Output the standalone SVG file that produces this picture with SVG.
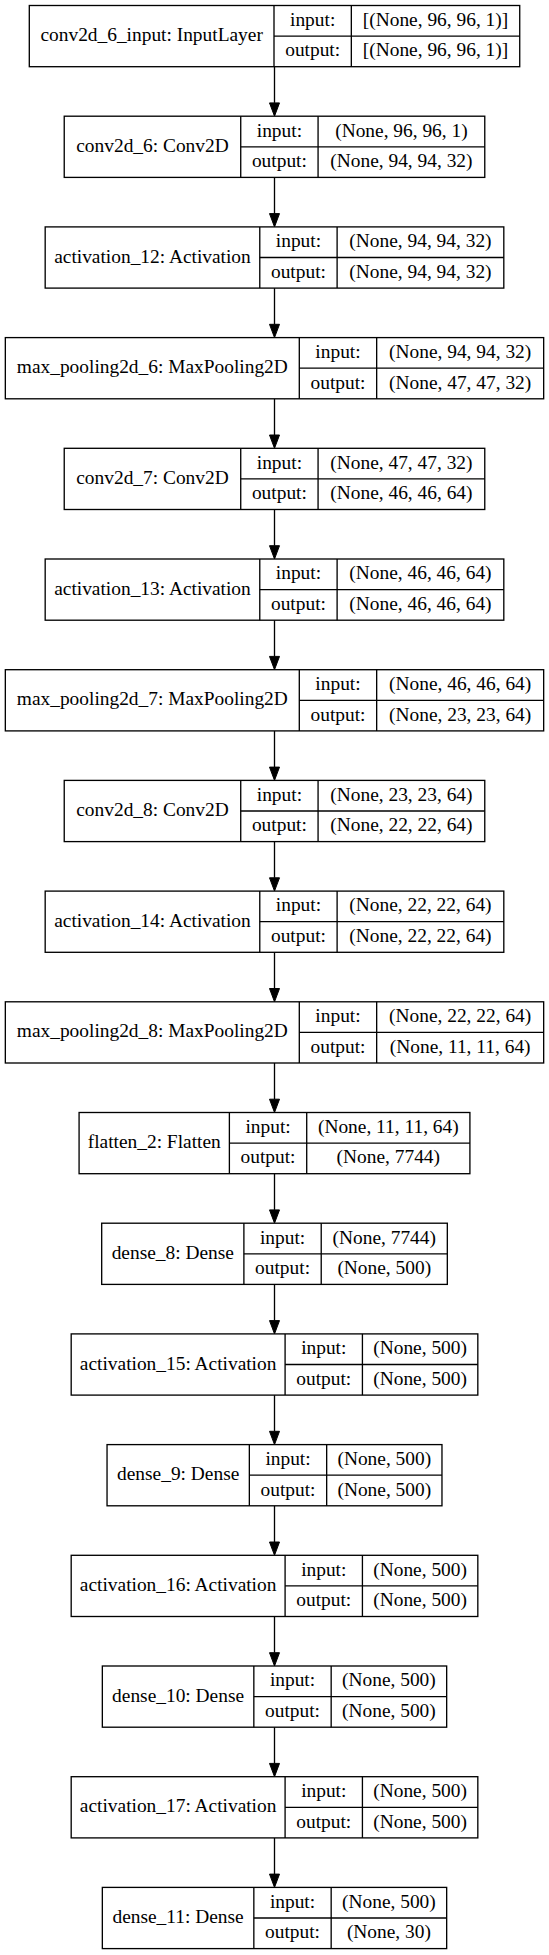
<svg xmlns="http://www.w3.org/2000/svg" width="549" height="1955" viewBox="0 0 549 1955" font-family="'Liberation Serif', 'DejaVu Serif', serif">
<style>
.bg{fill:#fff}
rect.b{fill:#fff;stroke:#000;stroke-width:1.33}
line.s{stroke:#000;stroke-width:1.33}
text{font-family:'Liberation Serif','DejaVu Serif',serif;font-size:19.4px;fill:#000;text-anchor:middle}
.e{stroke:#000;stroke-width:1.33;fill:none}
</style>
<defs>
<marker id="ah" markerWidth="14" markerHeight="10" refX="0" refY="5" orient="auto" markerUnits="userSpaceOnUse" viewBox="0 0 14 10" overflow="visible"><path d="M0,0 L13.3,5 L0,10 z" fill="#000" stroke="#000" stroke-width="1"/></marker>
</defs>
<rect class="bg" x="0" y="0" width="549" height="1955"/>
<g id="connectors">
<path class="e" marker-end="url(#ah)" d="M274.5,66.7 V102.9"/>
<path class="e" marker-end="url(#ah)" d="M274.5,177.4 V213.6"/>
<path class="e" marker-end="url(#ah)" d="M274.5,288.1 V324.3"/>
<path class="e" marker-end="url(#ah)" d="M274.5,398.8 V435.0"/>
<path class="e" marker-end="url(#ah)" d="M274.5,509.5 V545.7"/>
<path class="e" marker-end="url(#ah)" d="M274.5,620.2 V656.4"/>
<path class="e" marker-end="url(#ah)" d="M274.5,730.9 V767.1"/>
<path class="e" marker-end="url(#ah)" d="M274.5,841.6 V877.8"/>
<path class="e" marker-end="url(#ah)" d="M274.5,952.3 V988.5"/>
<path class="e" marker-end="url(#ah)" d="M274.5,1063.0 V1099.2"/>
<path class="e" marker-end="url(#ah)" d="M274.5,1173.7 V1209.9"/>
<path class="e" marker-end="url(#ah)" d="M274.5,1284.4 V1320.6"/>
<path class="e" marker-end="url(#ah)" d="M274.5,1395.1 V1431.3"/>
<path class="e" marker-end="url(#ah)" d="M274.5,1505.8 V1542.0"/>
<path class="e" marker-end="url(#ah)" d="M274.5,1616.5 V1652.7"/>
<path class="e" marker-end="url(#ah)" d="M274.5,1727.2 V1763.4"/>
<path class="e" marker-end="url(#ah)" d="M274.5,1837.9 V1874.1"/>
</g>
<g id="conv2d_6_input">
<rect class="b" x="29.3" y="5.5" width="490.43" height="61.2"/>
<line class="s" x1="274.0" y1="5.5" x2="274.0" y2="66.7"/><line class="s" x1="351.33" y1="5.5" x2="351.33" y2="66.7"/><line class="s" x1="274.0" y1="36.1" x2="519.73" y2="36.1"/>
<text x="151.65" y="41.1">conv2d_6_input: InputLayer</text>
<text x="312.67" y="25.8">input:</text><text x="312.67" y="56.4">output:</text>
<text x="435.53" y="25.8">[(None, 96, 96, 1)]</text><text x="435.53" y="56.4">[(None, 96, 96, 1)]</text>
</g>
<g id="conv2d_6">
<rect class="b" x="64.23" y="116.2" width="420.54" height="61.2"/>
<line class="s" x1="240.73" y1="116.2" x2="240.73" y2="177.4"/><line class="s" x1="318.07" y1="116.2" x2="318.07" y2="177.4"/><line class="s" x1="240.73" y1="146.8" x2="484.77" y2="146.8"/>
<text x="152.48" y="151.8">conv2d_6: Conv2D</text>
<text x="279.4" y="136.5">input:</text><text x="279.4" y="167.1">output:</text>
<text x="401.42" y="136.5">(None, 96, 96, 1)</text><text x="401.42" y="167.1">(None, 94, 94, 32)</text>
</g>
<g id="activation_12">
<rect class="b" x="45.18" y="226.9" width="458.63" height="61.2"/>
<line class="s" x1="259.78" y1="226.9" x2="259.78" y2="288.1"/><line class="s" x1="337.11" y1="226.9" x2="337.11" y2="288.1"/><line class="s" x1="259.78" y1="257.5" x2="503.81" y2="257.5"/>
<text x="152.48" y="262.5">activation_12: Activation</text>
<text x="298.45" y="247.2">input:</text><text x="298.45" y="277.8">output:</text>
<text x="420.46" y="247.2">(None, 94, 94, 32)</text><text x="420.46" y="277.8">(None, 94, 94, 32)</text>
</g>
<g id="max_pooling2d_6">
<rect class="b" x="5.33" y="337.6" width="538.34" height="61.2"/>
<line class="s" x1="299.3" y1="337.6" x2="299.3" y2="398.8"/><line class="s" x1="376.67" y1="337.6" x2="376.67" y2="398.8"/><line class="s" x1="299.3" y1="368.2" x2="543.67" y2="368.2"/>
<text x="152.32" y="373.2">max_pooling2d_6: MaxPooling2D</text>
<text x="337.99" y="357.9">input:</text><text x="337.99" y="388.5">output:</text>
<text x="460.17" y="357.9">(None, 94, 94, 32)</text><text x="460.17" y="388.5">(None, 47, 47, 32)</text>
</g>
<g id="conv2d_7">
<rect class="b" x="64.23" y="448.3" width="420.54" height="61.2"/>
<line class="s" x1="240.73" y1="448.3" x2="240.73" y2="509.5"/><line class="s" x1="318.07" y1="448.3" x2="318.07" y2="509.5"/><line class="s" x1="240.73" y1="478.9" x2="484.77" y2="478.9"/>
<text x="152.48" y="483.9">conv2d_7: Conv2D</text>
<text x="279.4" y="468.6">input:</text><text x="279.4" y="499.2">output:</text>
<text x="401.42" y="468.6">(None, 47, 47, 32)</text><text x="401.42" y="499.2">(None, 46, 46, 64)</text>
</g>
<g id="activation_13">
<rect class="b" x="45.18" y="559.0" width="458.63" height="61.2"/>
<line class="s" x1="259.78" y1="559.0" x2="259.78" y2="620.2"/><line class="s" x1="337.11" y1="559.0" x2="337.11" y2="620.2"/><line class="s" x1="259.78" y1="589.6" x2="503.81" y2="589.6"/>
<text x="152.48" y="594.6">activation_13: Activation</text>
<text x="298.45" y="579.3">input:</text><text x="298.45" y="609.9">output:</text>
<text x="420.46" y="579.3">(None, 46, 46, 64)</text><text x="420.46" y="609.9">(None, 46, 46, 64)</text>
</g>
<g id="max_pooling2d_7">
<rect class="b" x="5.33" y="669.7" width="538.34" height="61.2"/>
<line class="s" x1="299.3" y1="669.7" x2="299.3" y2="730.9"/><line class="s" x1="376.67" y1="669.7" x2="376.67" y2="730.9"/><line class="s" x1="299.3" y1="700.3" x2="543.67" y2="700.3"/>
<text x="152.32" y="705.3">max_pooling2d_7: MaxPooling2D</text>
<text x="337.99" y="690.0">input:</text><text x="337.99" y="720.6">output:</text>
<text x="460.17" y="690.0">(None, 46, 46, 64)</text><text x="460.17" y="720.6">(None, 23, 23, 64)</text>
</g>
<g id="conv2d_8">
<rect class="b" x="64.23" y="780.4" width="420.54" height="61.2"/>
<line class="s" x1="240.73" y1="780.4" x2="240.73" y2="841.6"/><line class="s" x1="318.07" y1="780.4" x2="318.07" y2="841.6"/><line class="s" x1="240.73" y1="811.0" x2="484.77" y2="811.0"/>
<text x="152.48" y="816.0">conv2d_8: Conv2D</text>
<text x="279.4" y="800.7">input:</text><text x="279.4" y="831.3">output:</text>
<text x="401.42" y="800.7">(None, 23, 23, 64)</text><text x="401.42" y="831.3">(None, 22, 22, 64)</text>
</g>
<g id="activation_14">
<rect class="b" x="45.18" y="891.1" width="458.63" height="61.2"/>
<line class="s" x1="259.78" y1="891.1" x2="259.78" y2="952.3"/><line class="s" x1="337.11" y1="891.1" x2="337.11" y2="952.3"/><line class="s" x1="259.78" y1="921.7" x2="503.81" y2="921.7"/>
<text x="152.48" y="926.7">activation_14: Activation</text>
<text x="298.45" y="911.4">input:</text><text x="298.45" y="942.0">output:</text>
<text x="420.46" y="911.4">(None, 22, 22, 64)</text><text x="420.46" y="942.0">(None, 22, 22, 64)</text>
</g>
<g id="max_pooling2d_8">
<rect class="b" x="5.33" y="1001.8" width="538.34" height="61.2"/>
<line class="s" x1="299.3" y1="1001.8" x2="299.3" y2="1063.0"/><line class="s" x1="376.67" y1="1001.8" x2="376.67" y2="1063.0"/><line class="s" x1="299.3" y1="1032.4" x2="543.67" y2="1032.4"/>
<text x="152.32" y="1037.4">max_pooling2d_8: MaxPooling2D</text>
<text x="337.99" y="1022.1">input:</text><text x="337.99" y="1052.7">output:</text>
<text x="460.17" y="1022.1">(None, 22, 22, 64)</text><text x="460.17" y="1052.7">(None, 11, 11, 64)</text>
</g>
<g id="flatten_2">
<rect class="b" x="79.08" y="1112.5" width="390.83" height="61.2"/>
<line class="s" x1="229.38" y1="1112.5" x2="229.38" y2="1173.7"/><line class="s" x1="306.71" y1="1112.5" x2="306.71" y2="1173.7"/><line class="s" x1="229.38" y1="1143.1" x2="469.91" y2="1143.1"/>
<text x="154.23" y="1148.1">flatten_2: Flatten</text>
<text x="268.05" y="1132.8">input:</text><text x="268.05" y="1163.4">output:</text>
<text x="388.31" y="1132.8">(None, 11, 11, 64)</text><text x="388.31" y="1163.4">(None, 7744)</text>
</g>
<g id="dense_8">
<rect class="b" x="101.69" y="1223.2" width="345.63" height="61.2"/>
<line class="s" x1="243.89" y1="1223.2" x2="243.89" y2="1284.4"/><line class="s" x1="321.22" y1="1223.2" x2="321.22" y2="1284.4"/><line class="s" x1="243.89" y1="1253.8" x2="447.32" y2="1253.8"/>
<text x="172.79" y="1258.8">dense_8: Dense</text>
<text x="282.56" y="1243.5">input:</text><text x="282.56" y="1274.1">output:</text>
<text x="384.27" y="1243.5">(None, 7744)</text><text x="384.27" y="1274.1">(None, 500)</text>
</g>
<g id="activation_15">
<rect class="b" x="71.19" y="1333.9" width="406.63" height="61.2"/>
<line class="s" x1="285.09" y1="1333.9" x2="285.09" y2="1395.1"/><line class="s" x1="362.42" y1="1333.9" x2="362.42" y2="1395.1"/><line class="s" x1="285.09" y1="1364.5" x2="477.82" y2="1364.5"/>
<text x="178.14" y="1369.5">activation_15: Activation</text>
<text x="323.76" y="1354.2">input:</text><text x="323.76" y="1384.8">output:</text>
<text x="420.12" y="1354.2">(None, 500)</text><text x="420.12" y="1384.8">(None, 500)</text>
</g>
<g id="dense_9">
<rect class="b" x="107.04" y="1444.6" width="334.93" height="61.2"/>
<line class="s" x1="249.34" y1="1444.6" x2="249.34" y2="1505.8"/><line class="s" x1="326.67" y1="1444.6" x2="326.67" y2="1505.8"/><line class="s" x1="249.34" y1="1475.2" x2="441.97" y2="1475.2"/>
<text x="178.19" y="1480.2">dense_9: Dense</text>
<text x="288.0" y="1464.9">input:</text><text x="288.0" y="1495.5">output:</text>
<text x="384.32" y="1464.9">(None, 500)</text><text x="384.32" y="1495.5">(None, 500)</text>
</g>
<g id="activation_16">
<rect class="b" x="71.19" y="1555.3" width="406.63" height="61.2"/>
<line class="s" x1="285.09" y1="1555.3" x2="285.09" y2="1616.5"/><line class="s" x1="362.42" y1="1555.3" x2="362.42" y2="1616.5"/><line class="s" x1="285.09" y1="1585.9" x2="477.82" y2="1585.9"/>
<text x="178.14" y="1590.9">activation_16: Activation</text>
<text x="323.76" y="1575.6">input:</text><text x="323.76" y="1606.2">output:</text>
<text x="420.12" y="1575.6">(None, 500)</text><text x="420.12" y="1606.2">(None, 500)</text>
</g>
<g id="dense_10">
<rect class="b" x="102.34" y="1666.0" width="344.33" height="61.2"/>
<line class="s" x1="253.84" y1="1666.0" x2="253.84" y2="1727.2"/><line class="s" x1="331.17" y1="1666.0" x2="331.17" y2="1727.2"/><line class="s" x1="253.84" y1="1696.6" x2="446.67" y2="1696.6"/>
<text x="178.09" y="1701.6">dense_10: Dense</text>
<text x="292.5" y="1686.3">input:</text><text x="292.5" y="1716.9">output:</text>
<text x="388.92" y="1686.3">(None, 500)</text><text x="388.92" y="1716.9">(None, 500)</text>
</g>
<g id="activation_17">
<rect class="b" x="71.19" y="1776.7" width="406.63" height="61.2"/>
<line class="s" x1="285.09" y1="1776.7" x2="285.09" y2="1837.9"/><line class="s" x1="362.42" y1="1776.7" x2="362.42" y2="1837.9"/><line class="s" x1="285.09" y1="1807.3" x2="477.82" y2="1807.3"/>
<text x="178.14" y="1812.3">activation_17: Activation</text>
<text x="323.76" y="1797.0">input:</text><text x="323.76" y="1827.6">output:</text>
<text x="420.12" y="1797.0">(None, 500)</text><text x="420.12" y="1827.6">(None, 500)</text>
</g>
<g id="dense_11">
<rect class="b" x="102.34" y="1887.4" width="344.33" height="61.2"/>
<line class="s" x1="253.84" y1="1887.4" x2="253.84" y2="1948.6"/><line class="s" x1="331.17" y1="1887.4" x2="331.17" y2="1948.6"/><line class="s" x1="253.84" y1="1918.0" x2="446.67" y2="1918.0"/>
<text x="178.09" y="1923.0">dense_11: Dense</text>
<text x="292.5" y="1907.7">input:</text><text x="292.5" y="1938.3">output:</text>
<text x="388.92" y="1907.7">(None, 500)</text><text x="388.92" y="1938.3">(None, 30)</text>
</g>
</svg>
